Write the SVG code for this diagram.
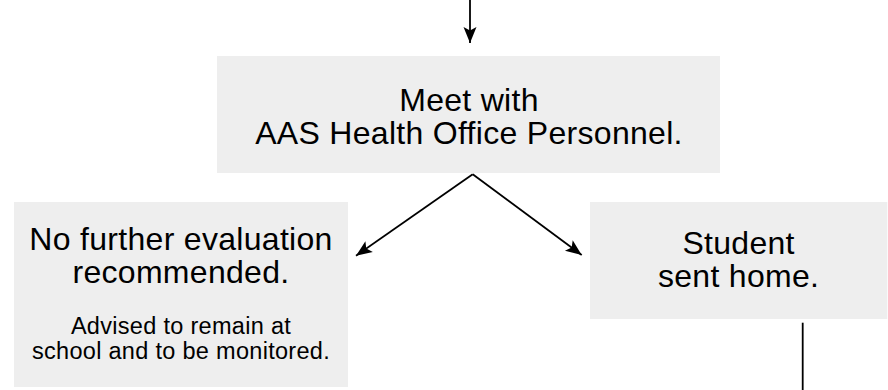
<svg xmlns="http://www.w3.org/2000/svg" width="888" height="390" viewBox="0 0 888 390">
<defs>
<style>
.box{fill:#eeeeee;stroke:none}
.big{font-family:"Liberation Sans",Arial,Helvetica,sans-serif;font-size:32px;letter-spacing:0.3px;fill:#000000;text-anchor:middle}
.small{font-family:"Liberation Sans",Arial,Helvetica,sans-serif;font-size:23.5px;letter-spacing:0.3px;fill:#000000;text-anchor:middle}
.edge{stroke:#000000;stroke-width:1.8;fill:none}
</style>
<marker id="arrow" markerUnits="userSpaceOnUse" markerWidth="20" markerHeight="16" viewBox="0 -8 18 16" refX="16" refY="0" orient="auto">
<path d="M0,-6.5 L16,0 L0,6.5 L3.5,0 Z" fill="#000000"/>
</marker>
</defs>
<rect width="888" height="390" fill="#ffffff"/>
<g id="connectors">
<line class="edge" x1="470" y1="0" x2="470" y2="43" marker-end="url(#arrow)"/>
<line class="edge" x1="472.7" y1="174.3" x2="356" y2="255.7" marker-end="url(#arrow)"/>
<line class="edge" x1="472.7" y1="174.3" x2="581.7" y2="255" marker-end="url(#arrow)"/>
<line class="edge" x1="802.7" y1="322.7" x2="802.7" y2="390"/>
</g>
<g id="node-meet">
<rect class="box" x="217" y="56" width="503" height="117"/>
<text class="big" x="469" y="111"><tspan x="469" y="111">Meet with</tspan><tspan x="469" y="143.5">AAS Health Office Personnel.</tspan></text>
</g>
<g id="node-no-further">
<rect class="box" x="14" y="202" width="334" height="185"/>
<text class="big" x="181" y="250"><tspan x="181" y="250">No further evaluation</tspan><tspan x="181" y="283">recommended.</tspan></text>
<text class="small" x="181" y="333.5"><tspan x="181" y="333.5">Advised to remain at</tspan><tspan x="181" y="358.5">school and to be monitored.</tspan></text>
</g>
<g id="node-sent-home">
<rect class="box" x="590" y="202" width="297.3" height="117"/>
<text class="big" x="738.6" y="253.5"><tspan x="738.6" y="253.5">Student</tspan><tspan x="738.6" y="287">sent home.</tspan></text>
</g>
</svg>
